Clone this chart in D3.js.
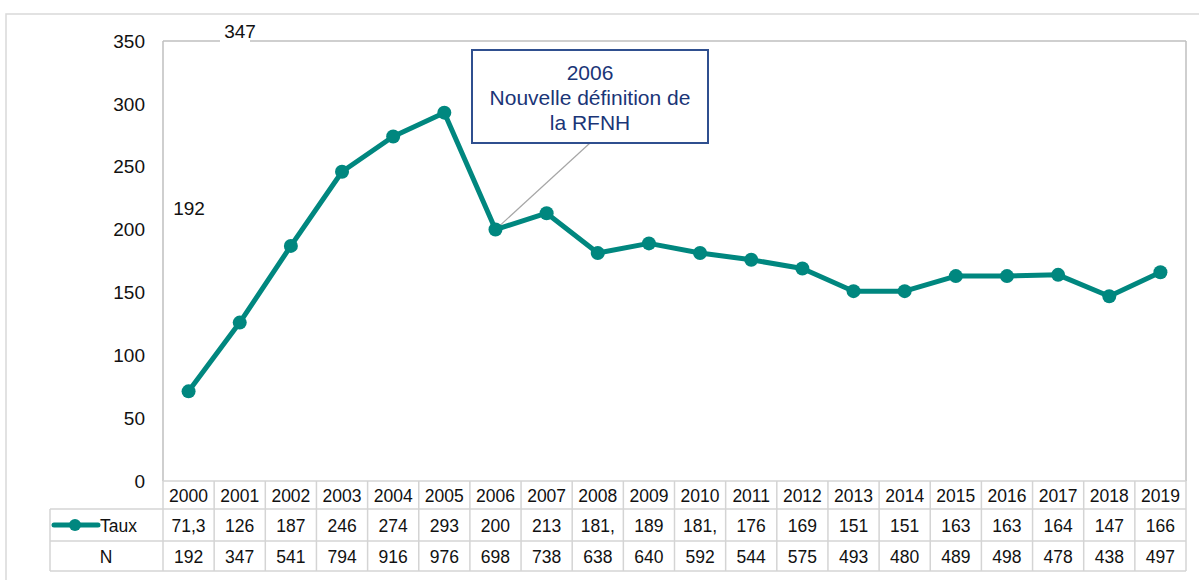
<!DOCTYPE html>
<html>
<head>
<meta charset="utf-8">
<title></title>
<script src="https://cdn.jsdelivr.net/npm/d3@7"></script>
<style>
  body{margin:0;background:#fff;}
  svg text{font-family:"Liberation Sans", Arial, sans-serif;}
</style>
</head>
<body>
<script>
// données
let years=['2000','2001','2002','2003','2004','2005','2006','2007','2008','2009','2010','2011','2012','2013','2014','2015','2016','2017','2018','2019'];
let taux=[71.3,126,187,246,274,293,200,213,181.3,189,181.4,176,169,151,151,163,163,164,147,166];
let tauxLabels=['71,3','126','187','246','274','293','200','213','181,','189','181,','176','169','151','151','163','163','164','147','166'];
let nVals=[192,347,541,794,916,976,698,738,638,640,592,544,575,493,480,489,498,478,438,497];
let yTicks=[0,50,100,150,200,250,300,350];

let W=1199, H=580;
let pLeft=163, pRight=1186, pTop=41, pBottom=481;
let rowH=[pBottom, 509, 541, 571];
let teal='#00877f', grid='#d4d4d4';

let svg=d3.select('body').append('svg').attr('width', W).attr('height', H);

// cadre extérieur
svg.append('rect').attr('x', 6).attr('y', 14).attr('width', W).attr('height', H)
  .attr('fill', 'none').attr('stroke', '#d9d9d9').attr('stroke-width', 1.5);

let x=d3.scaleBand().domain(years).range([pLeft, pRight]);
let y=d3.scaleLinear().domain([0, 350]).range([pBottom, pTop]);

// zone de tracé
let g=svg.append('g');
g.append('line').attr('x1', pLeft).attr('x2', pLeft).attr('y1', pTop).attr('y2', pBottom).attr('stroke', '#bfbfbf').attr('stroke-width', 1.5);
g.append('line').attr('x1', pRight).attr('x2', pRight).attr('y1', pTop).attr('y2', pBottom).attr('stroke', '#bfbfbf').attr('stroke-width', 1.5);
g.append('line').attr('x1', pLeft).attr('x2', 220).attr('y1', pTop).attr('y2', pTop).attr('stroke', '#bfbfbf').attr('stroke-width', 1.5);
g.append('line').attr('x1', 250).attr('x2', pRight).attr('y1', pTop).attr('y2', pTop).attr('stroke', '#bfbfbf').attr('stroke-width', 1.5);

// axe Y
yTicks.forEach(t=>{
  g.append('text').attr('x', 145).attr('y', y(t)).attr('dy', '0.35em')
    .attr('text-anchor', 'end').attr('font-size', 19).attr('fill', '#111').text(t);
});

// étiquettes isolées
g.append('text').attr('x', 189).attr('y', y(217)).attr('dy', '0.35em').attr('text-anchor', 'middle')
  .attr('font-size', 19).attr('fill', '#111').text(nVals[0]);
g.append('text').attr('x', 240).attr('y', 31).attr('dy', '0.35em').attr('text-anchor', 'middle')
  .attr('font-size', 19).attr('fill', '#111').text(nVals[1]);

// tableau
let tg=svg.append('g');
tg.append('line').attr('x1', pLeft).attr('x2', pRight).attr('y1', rowH[0]).attr('y2', rowH[0]).attr('stroke', grid).attr('stroke-width', 1.5);
for(let i=1;i<rowH.length;i++){
  tg.append('line').attr('x1', 50).attr('x2', pRight).attr('y1', rowH[i]).attr('y2', rowH[i]).attr('stroke', grid).attr('stroke-width', 1.5);
}
tg.append('line').attr('x1', 50).attr('x2', 50).attr('y1', rowH[1]).attr('y2', rowH[3]).attr('stroke', grid).attr('stroke-width', 1.5);
years.forEach(yr=>{
  tg.append('line').attr('x1', x(yr)).attr('x2', x(yr)).attr('y1', rowH[0]).attr('y2', rowH[3]).attr('stroke', grid).attr('stroke-width', 1.5);
});
tg.append('line').attr('x1', pRight).attr('x2', pRight).attr('y1', rowH[0]).attr('y2', rowH[3]).attr('stroke', grid).attr('stroke-width', 1.5);

let rows=[years, tauxLabels, nVals];
rows.forEach((row, r)=>{
  row.forEach((v, i)=>{
    tg.append('text').attr('x', x(years[i])+x.bandwidth()/2).attr('y', (rowH[r]+rowH[r+1])/2+1)
      .attr('dy', '0.35em').attr('text-anchor', 'middle').attr('font-size', 17.5).attr('fill', '#111').text(v);
  });
});
// légende
let ly=(rowH[1]+rowH[2])/2;
tg.append('line').attr('x1', 54).attr('x2', 98).attr('y1', ly).attr('y2', ly).attr('stroke', teal).attr('stroke-width', 5).attr('stroke-linecap', 'round');
tg.append('circle').attr('cx', 75).attr('cy', ly).attr('r', 6).attr('fill', teal);
tg.append('text').attr('x', 100).attr('y', ly+1).attr('dy', '0.35em').attr('font-size', 17.5).attr('fill', '#111').text('Taux');
tg.append('text').attr('x', 106).attr('y', (rowH[2]+rowH[3])/2+1).attr('dy', '0.35em').attr('text-anchor', 'middle').attr('font-size', 17.5).attr('fill', '#111').text('N');

// annotation
let ax=x('2006')+x.bandwidth()/2, ay=y(taux[6]);
svg.append('line').attr('x1', ax).attr('y1', ay).attr('x2', 590).attr('y2', 143).attr('stroke', '#a6a6a6').attr('stroke-width', 1.2);

// ligne
let line=d3.line().x((d,i)=>x(years[i])+x.bandwidth()/2).y(d=>y(d));
svg.append('path').attr('d', line(taux)).attr('fill', 'none').attr('stroke', teal).attr('stroke-width', 5).attr('stroke-linejoin', 'round');
svg.selectAll('circle.pt').data(taux).enter().append('circle').attr('class', 'pt')
  .attr('cx', (d,i)=>x(years[i])+x.bandwidth()/2).attr('cy', d=>y(d)).attr('r', 7).attr('fill', teal);

svg.append('rect').attr('x', 472).attr('y', 50).attr('width', 236).attr('height', 93)
  .attr('fill', '#fff').attr('stroke', '#2f4f8f').attr('stroke-width', 2);
let notes=['2006', 'Nouvelle définition de', 'la RFNH'];
notes.forEach((t, i)=>{
  svg.append('text').attr('x', 590).attr('y', 73+i*25).attr('dy', '0.35em').attr('text-anchor', 'middle')
    .attr('font-size', 21).attr('fill', '#1a3577').text(t);
});
</script>
</body>
</html>
